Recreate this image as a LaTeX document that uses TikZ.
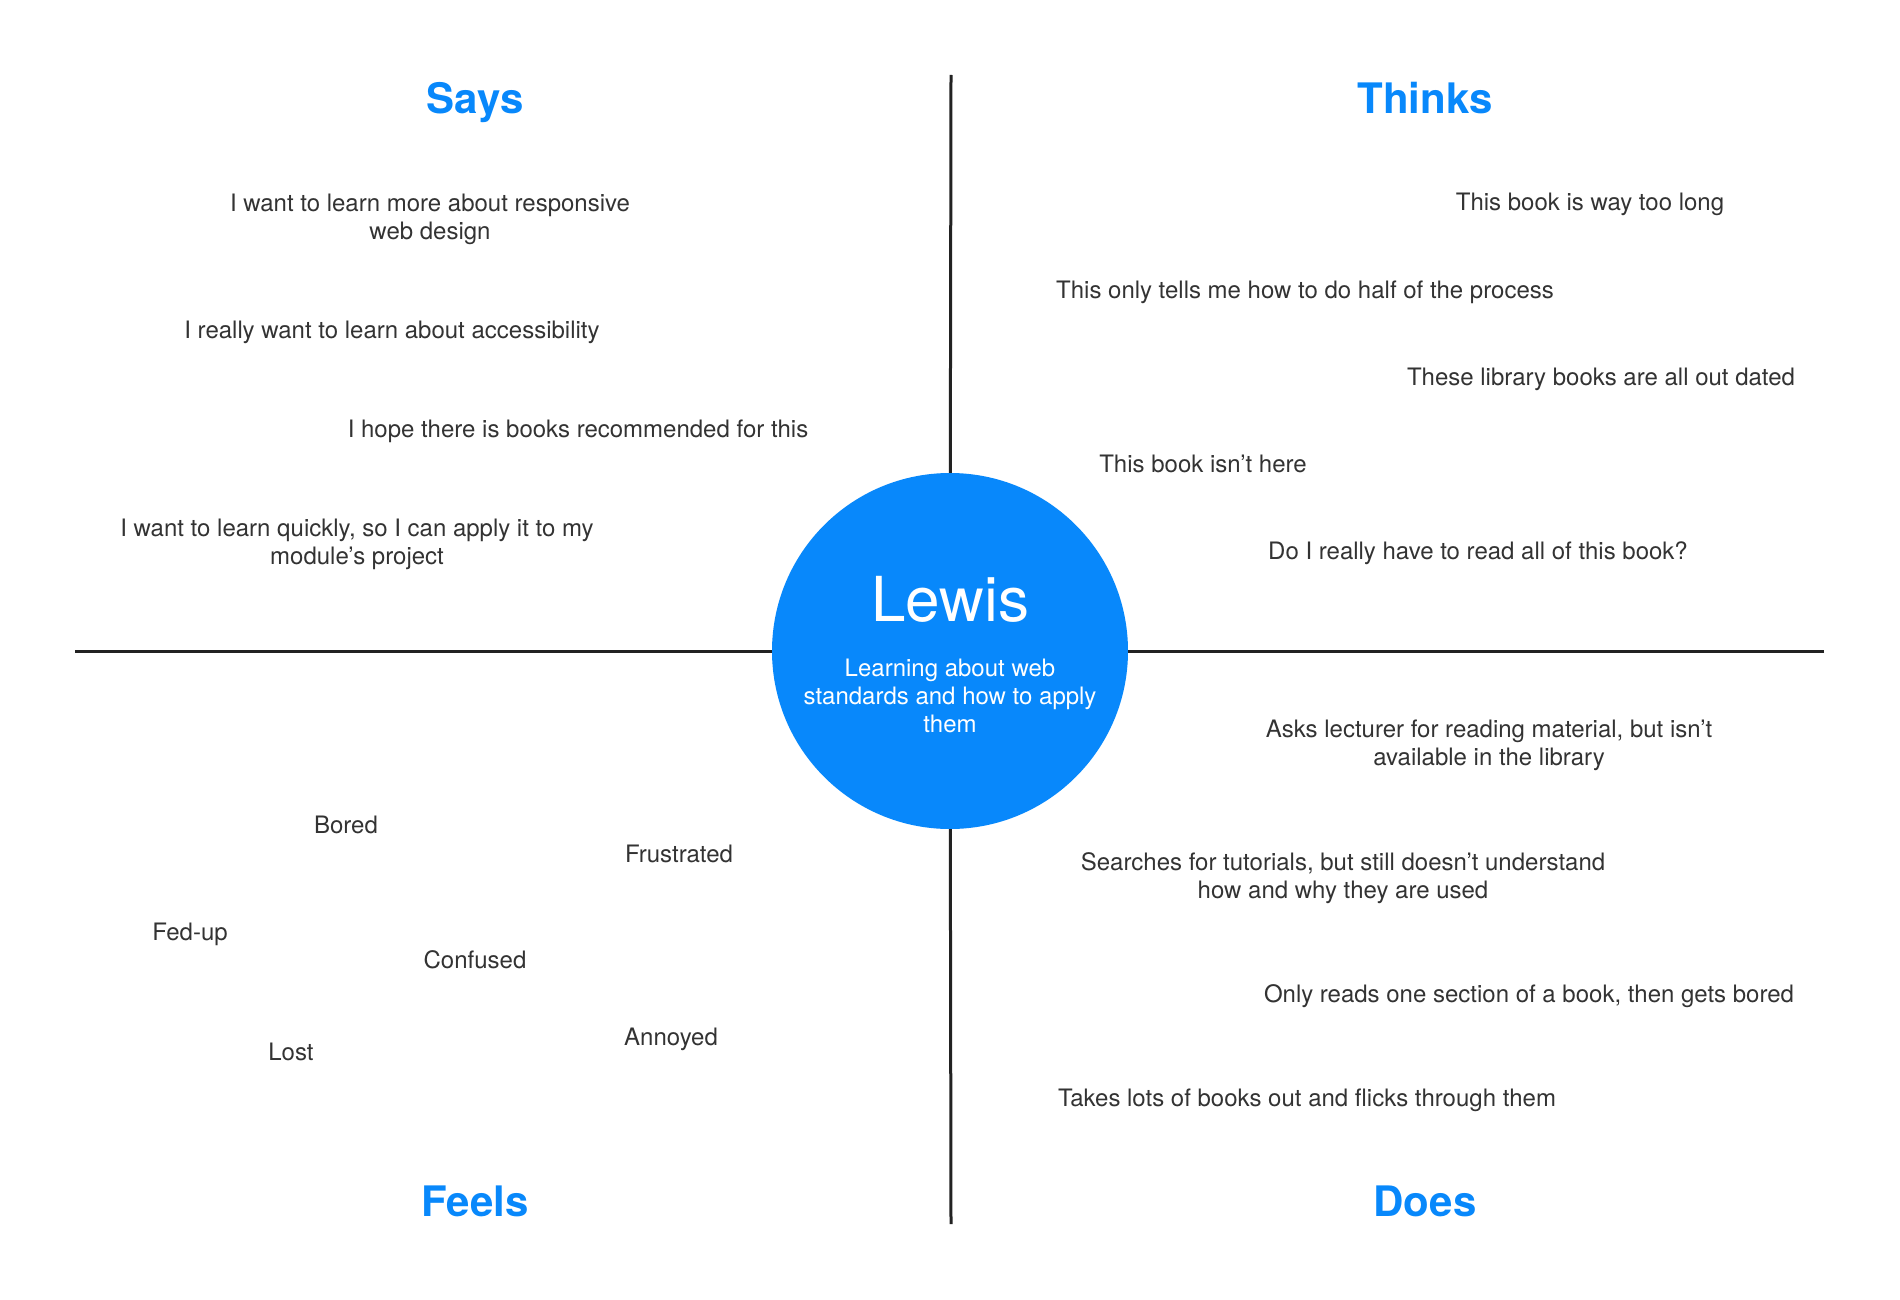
\documentclass[tikz,border=0pt]{standalone}
\usepackage{fontspec}
\setmainfont{TeX Gyre Heros}
\definecolor{empblue}{RGB}{8,136,251}
\definecolor{emptext}{RGB}{51,51,51}
\definecolor{empline}{RGB}{34,34,34}
\begin{document}
\begin{tikzpicture}[x=1pt,y=-1pt,
  item/.style={text=emptext, align=center, inner sep=0pt, font=\fontsize{24}{28}\selectfont},
  itemone/.style={item, text height=17.3pt, text depth=0pt},
  quadtitle/.style={text=empblue, inner sep=0pt, text height=30.4pt, text depth=0pt, font=\fontsize{42}{50}\selectfont\bfseries},
  divider/.style={draw=empline, line width=3pt}]
\useasboundingbox (0,0) rectangle (1900,1300);
\fill[white] (0,0) rectangle (1900,1300);
% circle
\node[circle, fill=empblue, minimum size=356pt, inner sep=0pt] (c) at (950,651) {};
\coordinate (top) at (951,75);
\coordinate (bottom) at (951,1224);
\coordinate (left) at (75,651);
\coordinate (right) at (1824,651);
\draw[divider] (top) -- (c);
\draw[divider] (bottom) -- (c);
\draw[divider] (left) -- (c);
\draw[divider] (right) -- (c);
\node[text=white, inner sep=0pt, font=\fontsize{62}{70}\selectfont] (name) at (950,599) {Lewis};
\node[item, text=white] (sub) at (950,696) {Learning about web\\standards and how to apply\\them};
% titles
\node[quadtitle] (says) at (475,98) {Says};
\node[quadtitle] (thinks) at (1425,98) {Thinks};
\node[quadtitle] (feels) at (475,1201) {Feels};
\node[quadtitle] (does) at (1425,1201) {Does};
% says
\node[item] (s1) at (430,219.6) {I want to learn more about responsive\\web design};
\node[itemone] (s2) at (392,330) {I really want to learn about accessibility};
\node[itemone] (s3) at (578,429) {I hope there is books recommended for this};
\node[item] (s4) at (357,544.4) {I want to learn quickly, so I can apply it to my\\module’s project};
% thinks
\node[itemone] (t1) at (1590,202) {This book is way too long};
\node[itemone] (t2) at (1305,290) {This only tells me how to do half of the process};
\node[itemone] (t3) at (1601,377) {These library books are all out dated};
\node[itemone] (t4) at (1203,464) {This book isn’t here};
\node[itemone] (t5) at (1478,551) {Do I really have to read all of this book?};
% feels
\node[itemone] (f1) at (346,825) {Bored};
\node[itemone] (f2) at (679,854) {Frustrated};
\node[itemone] (f3) at (190,932) {Fed-up};
\node[itemone] (f4) at (475,960) {Confused};
\node[itemone] (f5) at (291,1052) {Lost};
\node[itemone] (f6) at (671,1037) {Annoyed};
% does
\node[item] (d1) at (1489,745.4) {Asks lecturer for reading material, but isn’t\\available in the library};
\node[item] (d2) at (1343,878.6) {Searches for tutorials, but still doesn’t understand\\how and why they are used};
\node[itemone] (d3) at (1529,994) {Only reads one section of a book, then gets bored};
\node[itemone] (d4) at (1307,1098) {Takes lots of books out and flicks through them};
\end{tikzpicture}
\end{document}
